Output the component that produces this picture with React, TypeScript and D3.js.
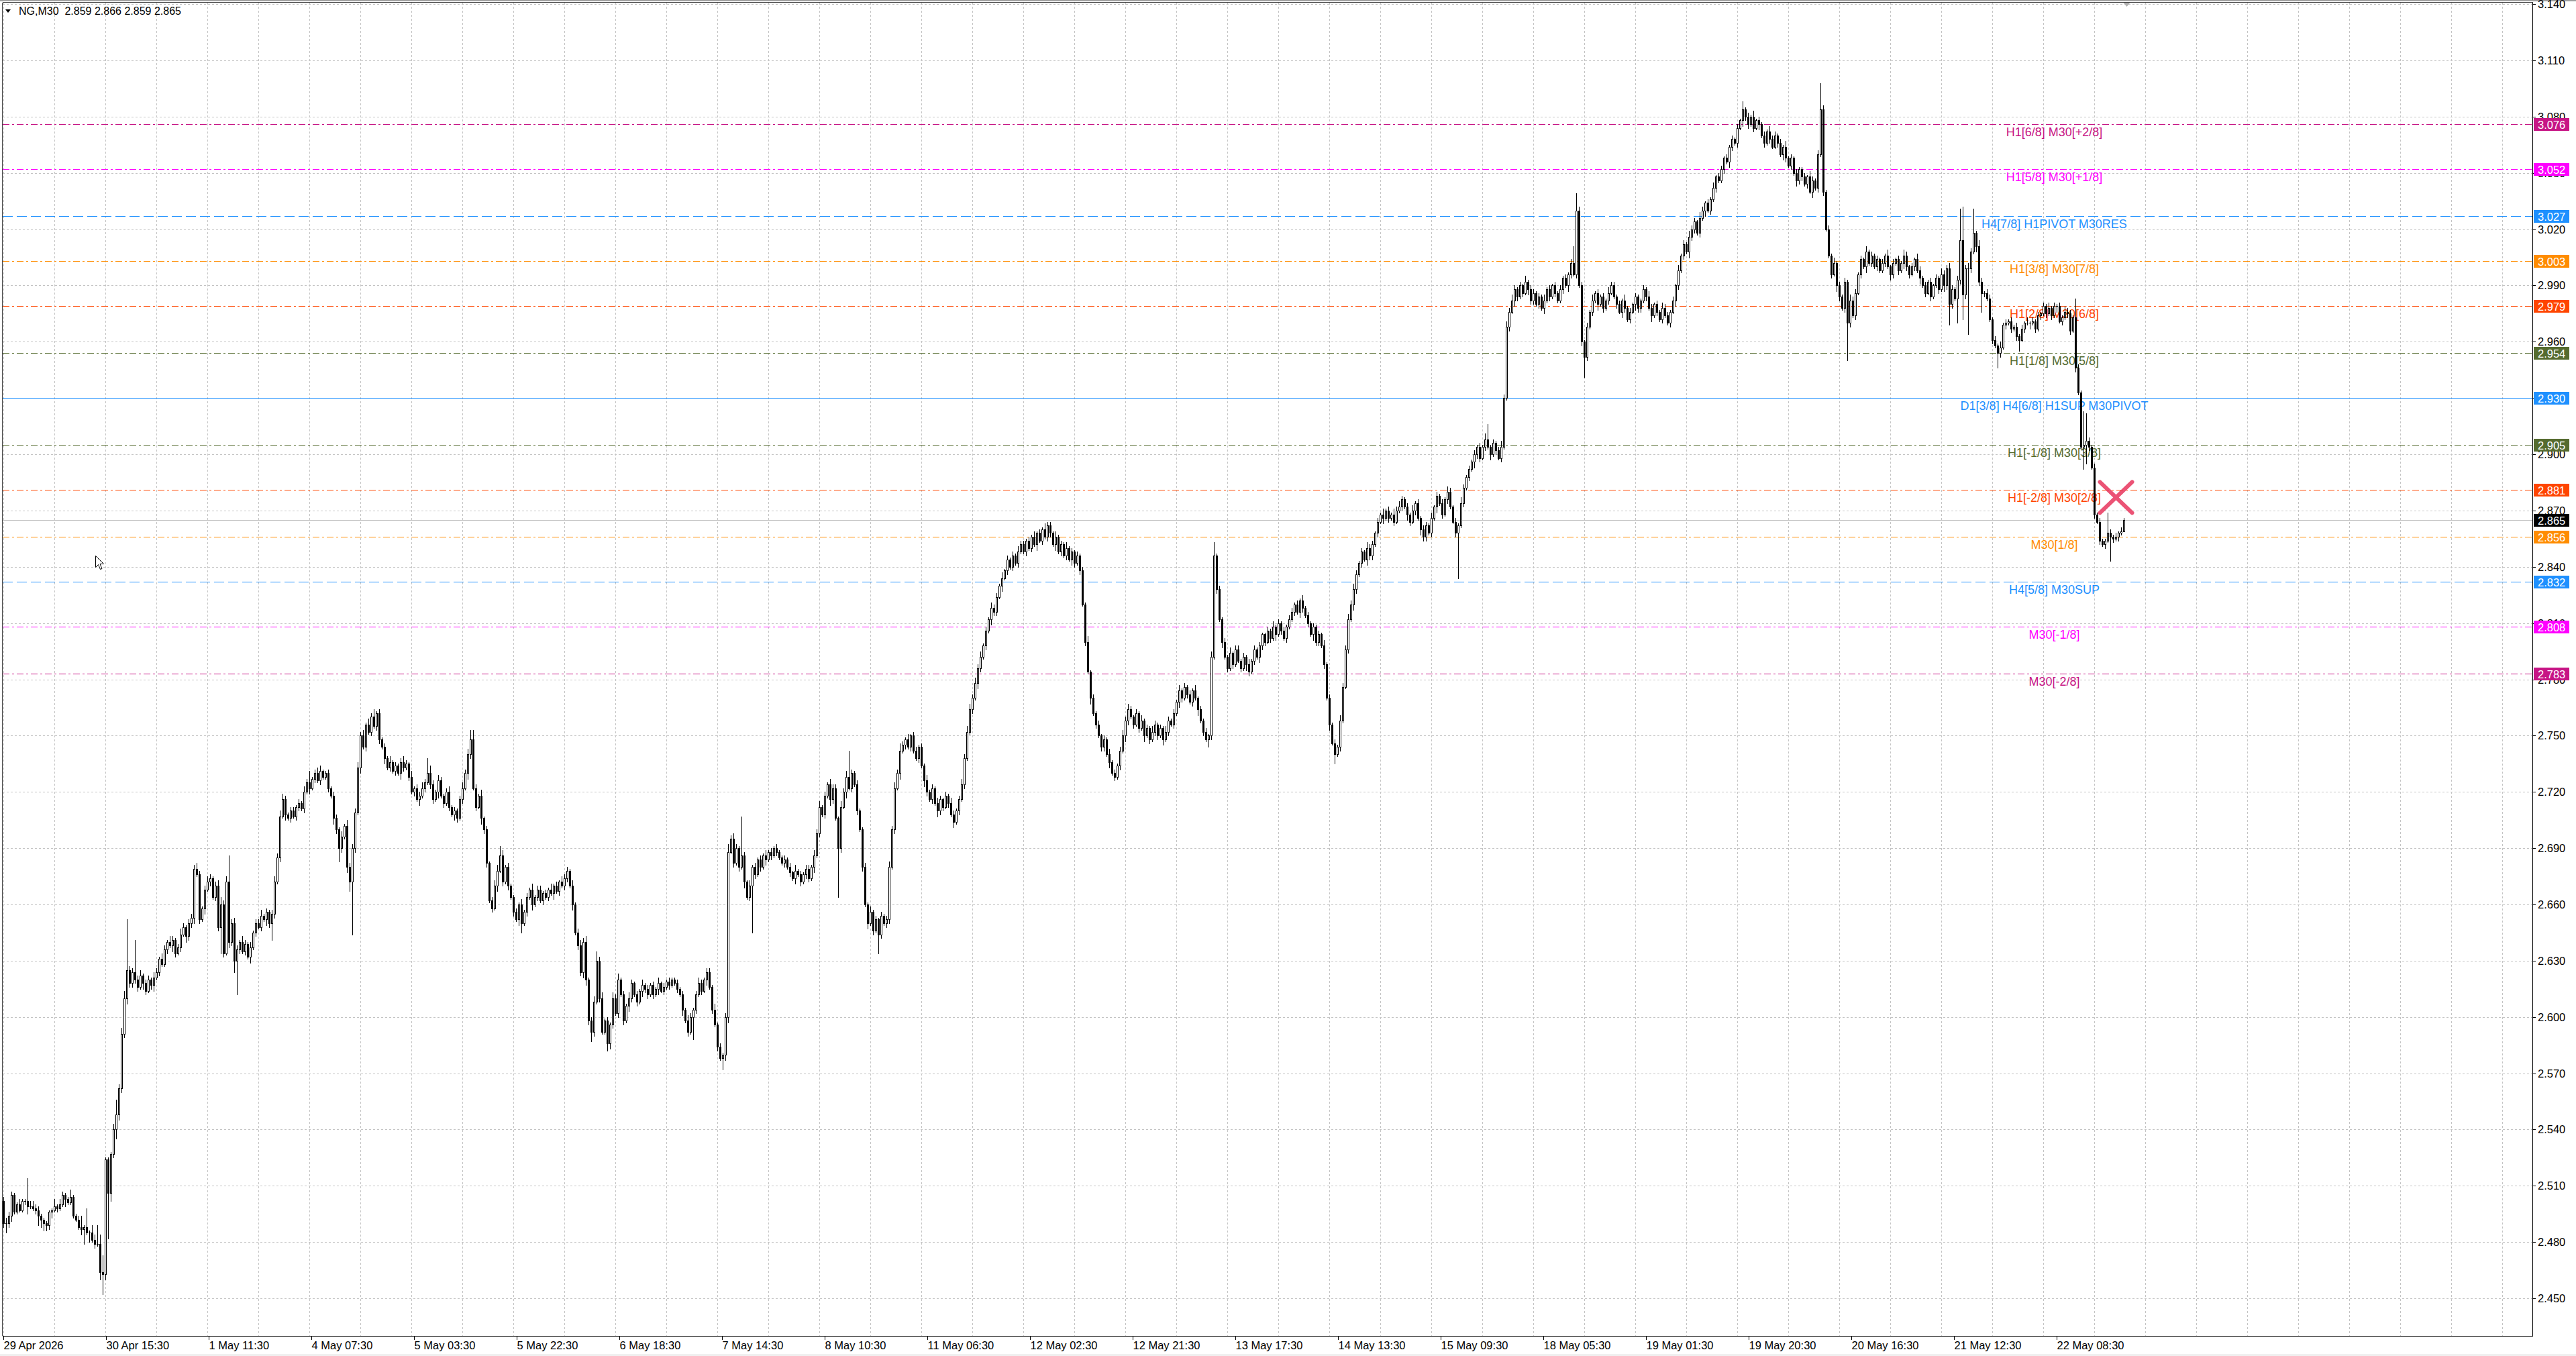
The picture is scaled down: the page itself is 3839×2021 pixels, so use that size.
import React, { useMemo } from "react";
import * as d3 from "d3";

const W = 3839;
const H = 2021;
const PLOT = { left: 4, right: 3774, top: 4, bottom: 1991 };
const FONT = "'Liberation Sans', Arial, sans-serif";

// NG,M30 closes in thousandths above 2.000 (499 = 2.499); open = previous close
const FIRST_OPEN = 502;
const CLOSES = [
  490, 490, 494, 505, 496, 500, 497, 502, 502, 499,
  499, 498, 497, 494, 492, 490, 489, 496, 497, 499,
  498, 500, 505, 503, 501, 504, 494, 492, 488, 487,
  488, 485, 485, 481, 479, 479, 464, 463, 524, 506,
  527, 540, 548, 562, 591, 610, 625, 618, 624, 620,
  616, 622, 618, 614, 620, 617, 621, 624, 631, 628,
  636, 640, 638, 641, 634, 637, 644, 648, 643, 650,
  653, 679, 676, 652, 658, 668, 672, 674, 664, 670,
  648, 660, 634, 672, 640, 650, 630, 636, 640, 635,
  639, 632, 637, 645, 650, 648, 654, 652, 656, 650,
  655, 672, 685, 707, 716, 708, 706, 710, 707, 712,
  714, 711, 720, 725, 722, 727, 730, 726, 731, 728,
  730, 722, 718, 706, 700, 690, 696, 702, 680, 672,
  690, 709, 733, 750, 744, 756, 752, 760, 755, 762,
  748, 744, 738, 733, 736, 731, 734, 730, 736, 733,
  735, 728, 720, 722, 716, 718, 722, 725, 730, 724,
  716, 720, 726, 718, 714, 720, 712, 708, 710, 706,
  716, 722, 730, 740, 748, 722, 712, 718, 706, 700,
  682, 662, 658, 670, 678, 686, 672, 680, 670, 664,
  656, 652, 660, 650, 656, 664, 668, 660, 664, 668,
  662, 666, 664, 668, 666, 670, 667, 672, 670, 674,
  678, 670, 660, 645, 638, 624, 640, 620, 598, 592,
  608, 630, 610, 592, 598, 586, 596, 610, 602, 620,
  612, 598, 606, 610, 618, 612, 608, 614, 617, 615,
  612, 617, 612, 615, 618, 614, 616, 619, 617, 620,
  618, 615, 612, 604, 598, 592, 600, 604, 612, 618,
  614, 620, 624, 616, 604, 596, 584, 578, 580, 600,
  688, 695, 682, 690, 680, 686, 672, 664, 670, 680,
  676, 684, 680, 686, 684, 688, 686, 690, 688, 685,
  682, 684, 680, 677, 674, 678, 676, 672, 676, 679,
  674, 680, 686, 698, 712, 708, 718, 724, 716, 722,
  706, 690, 712, 720, 728, 722, 730, 724, 710, 700,
  680, 660, 650, 656, 646, 652, 644, 654, 650, 652,
  680, 700, 722, 730, 742, 745, 748, 744, 750, 742,
  738, 744, 734, 726, 720, 716, 722, 714, 710, 716,
  712, 718, 714, 708, 704, 710, 716, 724, 738, 752,
  764, 770, 778, 786, 792, 798, 806, 812, 818, 816,
  824, 830, 834, 838, 844, 840, 846, 842, 848, 852,
  848, 854, 850, 856, 852, 858, 854, 860, 856, 862,
  858, 852, 856, 848, 852, 846, 850, 844, 848, 842,
  846, 838, 820, 800, 784, 770, 762, 756, 750, 744,
  748, 740, 736, 730, 728, 734, 742, 750, 758, 764,
  760, 756, 762, 754, 758, 750, 754, 748, 752, 756,
  750, 754, 748, 752, 758, 756, 762, 768, 774, 770,
  776, 772, 768, 774, 770, 764, 758, 752, 748, 750,
  792, 846, 828, 812, 800, 792, 786, 794, 788, 796,
  790, 786, 792, 788, 784, 790, 796, 792, 798, 804,
  800, 806, 802, 808, 804, 810, 806, 802, 808, 812,
  816, 820, 816, 822, 818, 814, 810, 804, 808, 800,
  804, 798, 788, 770, 756, 746, 740, 744, 758, 776,
  796, 812, 820, 828, 836, 842, 848, 844, 850, 846,
  852, 858, 864, 868, 866, 870, 866, 868, 864, 870,
  872, 876, 872, 868, 864, 870, 874, 866, 860, 856,
  862, 858, 866, 872, 878, 874, 868, 876, 880, 872,
  864, 858, 862, 874, 882, 888, 892, 896, 900, 904,
  898, 904, 908, 904, 900, 906, 902, 898, 904, 930,
  968, 976, 982, 988, 984, 990, 986, 992, 988, 982,
  986, 980, 984, 978, 982, 988, 984, 990, 986, 982,
  988, 994, 990, 996, 1002, 996, 1030, 990, 960, 952,
  968, 976, 982, 986, 980, 984, 978, 982, 986, 990,
  984, 980, 976, 982, 978, 972, 976, 980, 984, 978,
  982, 988, 984, 978, 974, 980, 976, 972, 978, 974,
  970, 976, 982, 990, 998, 1006, 1012, 1008, 1016, 1020,
  1024, 1018, 1026, 1030, 1034, 1030, 1036, 1042, 1048, 1046,
  1052, 1058, 1056, 1064, 1068, 1066, 1074, 1078, 1084, 1080,
  1076, 1080, 1074, 1078, 1076, 1070, 1066, 1072, 1068, 1064,
  1070, 1066, 1060, 1064, 1058, 1054, 1058, 1050, 1046, 1052,
  1048, 1044, 1048, 1040, 1046, 1042, 1060, 1084, 1040, 1020,
  1006, 996, 1002, 990, 984, 978, 992, 970, 982, 974,
  986, 996, 1004, 1000, 1008, 1002, 1006, 1000, 1004, 998,
  1002, 1006, 1000, 996, 1002, 1004, 998, 1002, 1006, 1000,
  996, 1000, 1004, 998, 994, 990, 986, 992, 984, 990,
  994, 988, 996, 990, 999, 980, 988, 983, 993, 1014,
  985, 999, 999, 1008, 1018, 1011, 992, 986, 986, 983,
  972, 961, 958, 954, 957, 969, 970, 971, 967, 968,
  963, 961, 967, 970, 970, 970, 971, 967, 974, 975,
  979, 975, 978, 974, 979, 979, 971, 973, 976, 975,
  966, 973, 946, 933, 904, 905, 907, 904, 893, 868,
  864, 854, 852, 854, 858, 856, 855, 856, 858, 859,
  865,
];

// upper / lower wick length per bar, thousandths, base-36 digits, groups of 10 bars
const WICK_UP = `
232211311c 3322111114 1321141126 1a143a5911 138234r22h 2312213213 2132123212 2232123212 3423e23213 2131223121
2323321221 2132612331 1212213132 2232313241 2121312123 2131223284 2132123121 2323552131 2123353121 1213121312
2121312132 2131232312 3523121323 1213212131 2121312121 1212132123 2122131212 42321l2131 2121312121 1212131212
2132312132 21323e2121 1213121212 3232421312 2121312132 1213212323 3232312132 2131212132 2121312132 2131213121
2121312121 2131212323 2121312132 1213212131 2121312121 3712121312 2121312121 1213121212 2121312121 2131212132
2323212132 2121312132 3212131212 2131212132 1213212121 2138121232 3232121312 2121312121 2121299221 2131212132
2121312121 1213212132 2121312132 2132121312 2121212141 2131212132 2121312121 1213212e21 2131212132 2121312121
2131212132 1213212121 213223212h i232d13212 2121312121 2121312121 2131212132 21a21if212 1211b21212 1`;

const WICK_DN = `
2523111124 1125443231 2114111113 8151214b3o 4253223222 2132123121 1213212132 2312131212 2e21326i21 2131212132
9212131212 2121312121 1213272135 s213121212 2131212132 1212131212 2131212132 1213212132 2121312121 2135121312
1212131212 2131223325 2121143212 1213212132 2121312121 1213121c21 2131212163 312121312p 2121312121 1212131212
2131212132 1q21312121 213121a212 2121312121 1213212132 2121312121 1213212132 2131212121 1212131212 2131212132
1212131212 2131212132 1212131212 2131212132 1212131214 2121312121 1213212132 2121312121 1213212132 2121315121
1213212132 2121312121 1213212132 2121312121 12o1212132 2121312121 1213212132 2121312121 121321212b 2121312121
1213212132 2121312121 1213212132 2121312121 1213212132 2121312121 1213212132 2121312121 1213212k21 2121312121
1213212132 2121312121 12132b21d2 d2z2132a21 1218212121 2612131212 1212131212 21211ca212 12121d2121 0`;

const HEADER = "NG,M30  2.859 2.866 2.859 2.865";
const LAST_PRICE = 2.865;

const TIME_LABELS = [
  "29 Apr 2026", "30 Apr 15:30", "1 May 11:30", "4 May 07:30", "5 May 03:30",
  "5 May 22:30", "6 May 18:30", "7 May 14:30", "8 May 10:30", "11 May 06:30",
  "12 May 02:30", "12 May 21:30", "13 May 17:30", "14 May 13:30", "15 May 09:30",
  "18 May 05:30", "19 May 01:30", "19 May 20:30", "20 May 16:30", "21 May 12:30",
  "22 May 08:30",
];
const LABEL_EVERY = 38.25; // bars between time labels
const GRID_EVERY = 19; // bars between vertical grid lines

const LEVEL_PRICES = [3.076, 3.052, 3.027, 3.003, 2.979, 2.954, 2.93, 2.905, 2.881, 2.856, 2.832, 2.808, 2.783];
const LEVEL_NAMES = [
  "H1[6/8] M30[+2/8]",
  "H1[5/8] M30[+1/8]",
  "H4[7/8] H1PIVOT M30RES",
  "H1[3/8] M30[7/8]",
  "H1[2/8] M30[6/8]",
  "H1[1/8] M30[5/8]",
  "D1[3/8] H4[6/8] H1SUP M30PIVOT",
  "H1[-1/8] M30[3/8]",
  "H1[-2/8] M30[2/8]",
  "M30[1/8]",
  "H4[5/8] M30SUP",
  "M30[-1/8]",
  "M30[-2/8]",
];
const LEVEL_COLORS = [
  "#C71585", "#FF00FF", "#1E90FF", "#FF8C00", "#FF4500", "#556B2F", "#1E90FF",
  "#556B2F", "#FF4500", "#FF8C00", "#1E90FF", "#FF00FF", "#C71585",
];
const LEVEL_STYLES = [
  "dashdot", "dashdot", "dash", "dashdot", "dashdot", "dashdot", "solid",
  "dashdot", "dashdot", "dashdot", "dash", "dashdot", "dashdot",
];
const LEVEL_LABEL_BAR = 764;

const MARKER = { bar: 787, price: 2.877 };
const CURSOR = { bar: 34, price: 2.846 };

const DASHES: Record<string, string | undefined> = {
  dashdot: "10 4 3 4",
  dash: "15 6",
  solid: undefined,
};

const parseWicks = (s: string) =>
  s.replace(/\s+/g, "").split("").map((c) => parseInt(c, 36));

type Bar = { i: number; o: number; h: number; l: number; c: number };

export default function App() {
  const bars = useMemo<Bar[]>(() => {
    const up = parseWicks(WICK_UP);
    const dn = parseWicks(WICK_DN);
    return CLOSES.map((c, i) => {
      const o = i === 0 ? FIRST_OPEN : CLOSES[i - 1];
      return {
        i,
        o: 2 + o / 1000,
        c: 2 + c / 1000,
        h: 2 + (Math.max(o, c) + (up[i] || 0)) / 1000,
        l: 2 + (Math.min(o, c) - (dn[i] || 0)) / 1000,
      };
    });
  }, []);

  const x = d3.scaleLinear().domain([0, 1]).range([5.5, 9.5]);
  const y = d3.scaleLinear().domain([2.45, 3.11]).range([1935, 90]);

  const yTicks = d3.range(0, 24).map((k) => +(2.45 + k * 0.03).toFixed(3));
  const maxBar = Math.floor((PLOT.right - 5) / 4);
  const xGrid = d3.range(0, maxBar + 1, GRID_EVERY);
  const fmt = d3.format(".3f");

  const ry = (p: number) => Math.round(y(p));
  const curX = Math.round(x(CURSOR.bar)) + 0.5;
  const curY = ry(CURSOR.price) + 0.5;

  return (
    <div style={{ position: "fixed", left: 0, top: 0, width: W, height: H, background: "#fff" }}>
      <svg width={W} height={H} style={{ display: "block" }} fontFamily={FONT}>
        <rect x={0} y={0} width={W} height={H} fill="#ffffff" />
        <rect x={0} y={H - 3} width={W} height={3} fill="#f0f0f0" />
        <rect x={0} y={0} width={W} height={2} fill="#a0a0a0" />

        {/* grid */}
        <g shapeRendering="crispEdges" stroke="#c4c4c4" strokeWidth={1} strokeDasharray="3 3">
          {yTicks.map((t) => (
            <line key={"h" + t} x1={PLOT.left} x2={PLOT.right} y1={ry(t) + 0.5} y2={ry(t) + 0.5} />
          ))}
          {xGrid.map((b) => (
            <line key={"v" + b} x1={x(b)} x2={x(b)} y1={PLOT.top} y2={PLOT.bottom} />
          ))}
        </g>

        {/* level lines + names */}
        <g shapeRendering="crispEdges">
          {LEVEL_PRICES.map((p, k) => (
            <line
              key={"l" + k}
              x1={PLOT.left}
              x2={PLOT.right}
              y1={ry(p) + 0.5}
              y2={ry(p) + 0.5}
              stroke={LEVEL_COLORS[k]}
              strokeWidth={1}
              strokeDasharray={DASHES[LEVEL_STYLES[k]]}
            />
          ))}
        </g>
        <g fontSize={18} textAnchor="middle">
          {LEVEL_PRICES.map((p, k) => (
            <text key={"n" + k} x={x(LEVEL_LABEL_BAR)} y={ry(p) + 18} fill={LEVEL_COLORS[k]}>
              {LEVEL_NAMES[k]}
            </text>
          ))}
        </g>

        {/* bid line */}
        <line
          x1={PLOT.left}
          x2={PLOT.right}
          y1={ry(LAST_PRICE) + 0.5}
          y2={ry(LAST_PRICE) + 0.5}
          stroke="#c0c0c0"
          strokeWidth={1}
          shapeRendering="crispEdges"
        />

        {/* candles */}
        <g shapeRendering="crispEdges">
          {bars.map((b) => {
            const cx = x(b.i);
            const top = ry(Math.max(b.o, b.c));
            const bot = ry(Math.min(b.o, b.c));
            const bull = b.c > b.o;
            return (
              <g key={b.i}>
                <line x1={cx} x2={cx} y1={ry(b.h)} y2={ry(b.l) + 1} stroke="#000" strokeWidth={1} />
                {b.c === b.o ? (
                  <line x1={cx - 1.5} x2={cx + 1.5} y1={top + 0.5} y2={top + 0.5} stroke="#000" strokeWidth={1} />
                ) : bull ? (
                  <rect x={cx - 1} y={top + 0.5} width={2} height={Math.max(1, bot - top)} fill="#fff" stroke="#000" strokeWidth={1} />
                ) : (
                  <rect x={cx - 1.5} y={top} width={3} height={Math.max(1, bot - top + 1)} fill="#000" />
                )}
              </g>
            );
          })}
        </g>

        {/* close marker */}
        <g stroke="#e8365d" strokeWidth={6} strokeLinecap="round" opacity={0.85}>
          <line x1={x(MARKER.bar) - 24} y1={y(MARKER.price) - 23} x2={x(MARKER.bar) + 24} y2={y(MARKER.price) + 23} />
          <line x1={x(MARKER.bar) + 24} y1={y(MARKER.price) - 23} x2={x(MARKER.bar) - 24} y2={y(MARKER.price) + 23} />
        </g>

        {/* mouse pointer left on the chart */}
        <path
          d={`M${curX},${curY} l0,17 l4,-4 l3,7 l2.5,-1 l-3,-7 l5.5,0 Z`}
          fill="#fff"
          stroke="#000"
          strokeWidth={1}
          strokeLinejoin="miter"
        />

        {/* frame */}
        <g shapeRendering="crispEdges" stroke="#000" strokeWidth={1}>
          <line x1={PLOT.left - 0.5} x2={PLOT.right + 0.5} y1={PLOT.top - 0.5} y2={PLOT.top - 0.5} stroke="#404040" />
          <line x1={PLOT.left - 0.5} x2={PLOT.left - 0.5} y1={PLOT.top} y2={PLOT.bottom} stroke="#404040" />
          <line x1={PLOT.right + 0.5} x2={PLOT.right + 0.5} y1={PLOT.top} y2={PLOT.bottom + 1} />
          <line x1={PLOT.left} x2={PLOT.right + 1} y1={PLOT.bottom + 0.5} y2={PLOT.bottom + 0.5} />
        </g>

        {/* chart shift marker */}
        <path
          d={`M${x(CLOSES.length) - 5},${PLOT.top} L${x(CLOSES.length) + 5},${PLOT.top} L${x(CLOSES.length)},${PLOT.top + 6} Z`}
          fill="#b0b0b0"
        />

        {/* price axis */}
        <g fontSize={16.5} fill="#000">
          {yTicks.map((t) => (
            <g key={"t" + t}>
              <line x1={PLOT.right + 1} x2={PLOT.right + 5} y1={ry(t) + 0.5} y2={ry(t) + 0.5} stroke="#000" shapeRendering="crispEdges" />
              <text x={3782} y={ry(t)} dominantBaseline="central">
                {fmt(t)}
              </text>
            </g>
          ))}
        </g>
        <g fontSize={16.5}>
          {LEVEL_PRICES.map((p, k) => (
            <g key={"b" + k}>
              <rect x={3776} y={ry(p) - 9} width={53} height={19} fill={LEVEL_COLORS[k]} />
              <text x={3782} y={ry(p) + 1} dominantBaseline="central" fill="#fff">
                {fmt(p)}
              </text>
            </g>
          ))}
          <rect x={3776} y={ry(LAST_PRICE) - 9} width={53} height={19} fill="#000" />
          <text x={3782} y={ry(LAST_PRICE) + 1} dominantBaseline="central" fill="#fff">
            {fmt(LAST_PRICE)}
          </text>
        </g>

        {/* time axis */}
        <g fontSize={16.5} fill="#000">
          {TIME_LABELS.map((lab, k) => {
            const tx = x(k * LABEL_EVERY) - 1;
            return (
              <g key={lab}>
                <line x1={Math.round(tx) + 0.5} x2={Math.round(tx) + 0.5} y1={PLOT.bottom + 1} y2={PLOT.bottom + 6} stroke="#000" shapeRendering="crispEdges" />
                <text x={tx + 1} y={2011}>
                  {lab}
                </text>
              </g>
            );
          })}
        </g>

        {/* header */}
        <path d="M8,14 L16,14 L12,19 Z" fill="#000" />
        <text x={28} y={22} fontSize={16} fill="#000" style={{ whiteSpace: "pre" }}>
          {HEADER}
        </text>
      </svg>
    </div>
  );
}
